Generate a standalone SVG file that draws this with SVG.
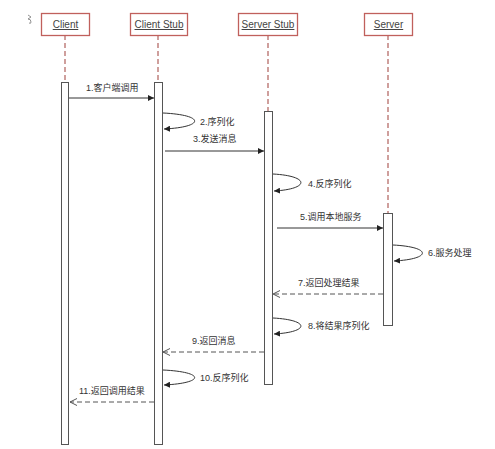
<svg xmlns="http://www.w3.org/2000/svg" width="495" height="449" viewBox="0 0 495 449">
<style>
.hdr{fill:#fff;stroke:#c0605c;stroke-width:1.3}
.ht{font-family:"Liberation Sans","Noto Sans CJK SC",sans-serif;font-size:10px;fill:#444;text-anchor:middle;text-decoration:underline}
.life{stroke:#b0605c;stroke-width:1.2;stroke-dasharray:5,3;fill:none}
.bar{fill:#fff;stroke:#555;stroke-width:1}
.msg{stroke:#333;stroke-width:1;fill:none}
.ret{stroke:#555;stroke-width:1;fill:none;stroke-dasharray:5,3}
.lbl{font-family:"Liberation Sans","Noto Sans CJK SC",sans-serif;font-size:9px;fill:#333}
</style>
<defs>
<marker id="fa" markerWidth="7" markerHeight="6" refX="6" refY="3" orient="auto" markerUnits="userSpaceOnUse">
<path d="M0,0 L6,3 L0,6 z" fill="#222"/>
</marker>
<marker id="oa" markerWidth="8" markerHeight="8" refX="7" refY="4" orient="auto" markerUnits="userSpaceOnUse">
<path d="M0,0.5 L7,4 L0,7.5" fill="none" stroke="#555" stroke-width="1"/>
</marker>
</defs>
<rect width="495" height="449" fill="#fff"/>
<path d="M28,15 l3,2 l-3,2 q3,0 3,3 q0,2 -2,1" fill="none" stroke="#777" stroke-width="0.8"/>
<g id="lifelines">
<line class="life" x1="65" y1="35" x2="65" y2="82"/>
<line class="life" x1="158" y1="35" x2="158" y2="82"/>
<line class="life" x1="268" y1="35" x2="268" y2="111"/>
<line class="life" x1="388" y1="35" x2="388" y2="213"/>
</g>
<g id="client">
<rect class="hdr" x="41.5" y="13.5" width="48" height="22"/>
<text class="ht" x="65.5" y="28">Client</text>
<rect class="bar" x="61.5" y="82.5" width="7" height="362"/>
</g>
<g id="client-stub">
<rect class="hdr" x="130.5" y="13.5" width="57" height="22"/>
<text class="ht" x="159" y="28">Client Stub</text>
<rect class="bar" x="154.5" y="82.5" width="8" height="362"/>
</g>
<g id="server-stub">
<rect class="hdr" x="238.5" y="13.5" width="59" height="22"/>
<text class="ht" x="268" y="28">Server Stub</text>
<rect class="bar" x="264.5" y="111.5" width="8" height="273"/>
</g>
<g id="server">
<rect class="hdr" x="364.5" y="13.5" width="48" height="22"/>
<text class="ht" x="388.5" y="28">Server</text>
<rect class="bar" x="383.5" y="213.5" width="9" height="112"/>
</g>
<g id="connectors">
<line class="msg" x1="69" y1="98" x2="154" y2="98" marker-end="url(#fa)"/>
<path class="msg" d="M163,113 C205,115 205,127 164,129" marker-end="url(#fa)"/>
<line class="msg" x1="165" y1="151" x2="264" y2="151" marker-end="url(#fa)"/>
<path class="msg" d="M273,174 C310,176 310,189 274,191" marker-end="url(#fa)"/>
<line class="msg" x1="277" y1="228" x2="383" y2="228" marker-end="url(#fa)"/>
<path class="msg" d="M393,245 C432,247 432,259 394,261" marker-end="url(#fa)"/>
<line class="ret" x1="383" y1="294" x2="273" y2="294" marker-end="url(#oa)"/>
<path class="msg" d="M273,318 C310,320 310,332 274,334" marker-end="url(#fa)"/>
<line class="ret" x1="264" y1="352" x2="163" y2="352" marker-end="url(#oa)"/>
<path class="msg" d="M163,370 C205,372 205,383 164,385" marker-end="url(#fa)"/>
<line class="ret" x1="154" y1="402" x2="70" y2="402" marker-end="url(#oa)"/>
</g>
<g id="labels">
<text class="lbl" x="86" y="91">1.客户端调用</text>
<text class="lbl" x="200" y="125">2.序列化</text>
<text class="lbl" x="193" y="142">3.发送消息</text>
<text class="lbl" x="308" y="187">4.反序列化</text>
<text class="lbl" x="300" y="220">5.调用本地服务</text>
<text class="lbl" x="428" y="256">6.服务处理</text>
<text class="lbl" x="298" y="286">7.返回处理结果</text>
<text class="lbl" x="308" y="329">8.将结果序列化</text>
<text class="lbl" x="192" y="344">9.返回消息</text>
<text class="lbl" x="200" y="381">10.反序列化</text>
<text class="lbl" x="79" y="394">11.返回调用结果</text>
</g>
</svg>
